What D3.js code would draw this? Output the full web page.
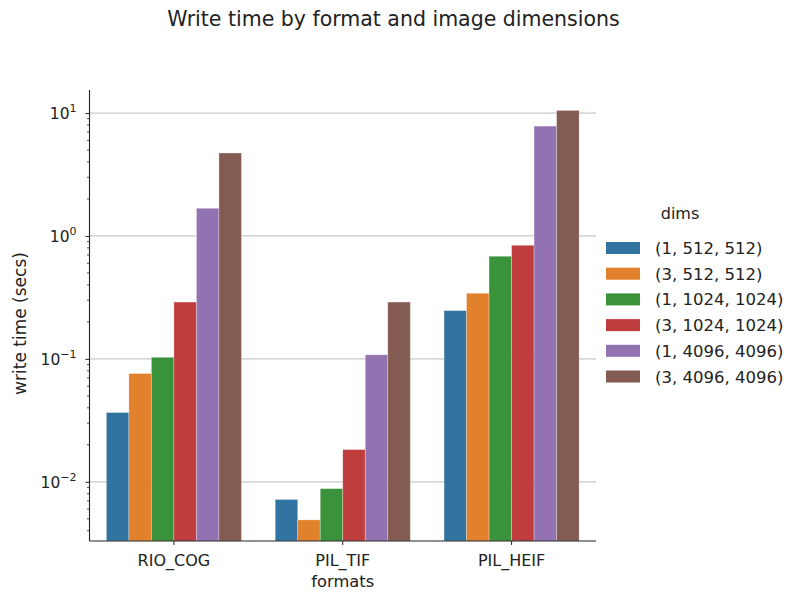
<!DOCTYPE html>
<html><head><meta charset="utf-8">
<script src="https://cdn.jsdelivr.net/npm/d3@7"></script>
<style>body{margin:0;background:#fff;} text{font-family:"DejaVu Sans",sans-serif;fill:#222;}</style>
</head><body>
<svg id="c" width="791" height="594"></svg>
<script>
const formats = ["RIO_COG", "PIL_TIF", "PIL_HEIF"];
const dims = ["(1, 512, 512)", "(3, 512, 512)", "(1, 1024, 1024)", "(3, 1024, 1024)", "(1, 4096, 4096)", "(3, 4096, 4096)"];
const rioCog = [0.0366, 0.076, 0.103, 0.29, 1.68, 4.73];
const pilTif = [0.00718, 0.0049, 0.0088, 0.0183, 0.108, 0.29];
const pilHeif = [0.247, 0.342, 0.684, 0.84, 7.83, 10.5];
const colors = ["#3274a1", "#e1812c", "#3a923a", "#c03d3e", "#9372b2", "#845b53"];
const yTicks = [0.01, 0.1, 1, 10];
const yExp = ["\u22122", "\u22121", "0", "1"];

const values = [rioCog, pilTif, pilHeif];
const svg = d3.select("#c");
const L = 89.5, R = 596, T = 90, B = 541;

const x = d3.scaleBand().domain(formats).range([L, R]).paddingInner(0).paddingOuter(0);
const xs = d3.scaleBand().domain(dims).range([0, x.bandwidth() * 0.8]);
const y = d3.scaleLog().domain([0.0033, 15.4]).range([B, T]);

// grid
svg.append("g").selectAll("line").data(yTicks).join("line")
  .attr("x1", L).attr("x2", R).attr("y1", d => y(d)).attr("y2", d => y(d))
  .attr("stroke", "#c8c8c8").attr("stroke-width", 1.2);

// bars
const g = svg.append("g");
formats.forEach((f, i) => {
  const off = x(f) + x.bandwidth() * 0.1;
  g.append("g").selectAll("rect").data(values[i]).join("rect")
    .attr("x", (d, j) => off + xs(dims[j]))
    .attr("width", xs.bandwidth())
    .attr("y", d => y(d))
    .attr("height", d => B - y(d))
    .attr("fill", (d, j) => colors[j])
    .attr("stroke", "#ffffff").attr("stroke-opacity", 0.35).attr("stroke-width", 0.8);
});

// y axis
const yAxis = d3.axisLeft(y).tickValues(yTicks).tickSize(4).tickFormat("");
const ya = svg.append("g").attr("transform", `translate(${L},0)`).call(yAxis);
ya.select(".domain").remove();
ya.selectAll(".tick line").attr("stroke", "#222").attr("stroke-width", 1);
const minor = [];
for (let e = -3; e <= 1; e++) for (let m = 2; m <= 9; m++) {
  const v = m * Math.pow(10, e);
  if (v >= 0.0033 && v <= 15.4) minor.push(v);
}
svg.append("g").selectAll("line").data(minor).join("line")
  .attr("x1", L - 2.5).attr("x2", L).attr("y1", d => y(d)).attr("y2", d => y(d))
  .attr("stroke", "#222").attr("stroke-width", 0.8);
const lab = svg.append("g");
yTicks.forEach((v, i) => {
  const t = lab.append("text").attr("x", L - 13).attr("y", y(v) + 6).attr("text-anchor", "end").style("font-size", "15.5px");
  t.append("tspan").text("10");
  t.append("tspan").attr("dy", -7).style("font-size", "11px").text(yExp[i]);
});

// x axis
const xa = svg.append("g").attr("transform", `translate(0,${B})`)
  .call(d3.axisBottom(x).tickSize(4).tickSizeOuter(0).tickPadding(0));
xa.select(".domain").remove();
xa.selectAll(".tick line").attr("stroke", "#222");
xa.selectAll(".tick text").style("font-size", "16px").attr("fill", "#222").attr("y", 25).attr("dy", null).style("font-family", "DejaVu Sans");

// spines
svg.append("line").attr("x1", L).attr("x2", L).attr("y1", T).attr("y2", B).attr("stroke", "#222").attr("stroke-width", 1.1);
svg.append("line").attr("x1", L).attr("x2", R).attr("y1", B).attr("y2", B).attr("stroke", "#222").attr("stroke-width", 1.1);

// labels
svg.append("text").attr("x", (L + R) / 2).attr("y", 587).attr("text-anchor", "middle").style("font-size", "16.3px").text("formats");
svg.append("text").attr("transform", `translate(26,${(T + B) / 2 + 8}) rotate(-90)`).attr("text-anchor", "middle").style("font-size", "17px").text("write time (secs)");
svg.append("text").attr("x", 393.5).attr("y", 26).attr("text-anchor", "middle").style("font-size", "20.5px").text("Write time by format and image dimensions");

// legend
const lg = svg.append("g");
lg.append("text").attr("x", 680).attr("y", 219).attr("text-anchor", "middle").style("font-size", "16px").text("dims");
dims.forEach((d, i) => {
  const cy = 248 + i * 25.7;
  lg.append("rect").attr("x", 606).attr("y", cy - 6).attr("width", 34).attr("height", 12).attr("fill", colors[i]);
  lg.append("text").attr("x", 655).attr("y", cy + 6).style("font-size", "16.5px").text(d);
});
</script>
</body></html>
